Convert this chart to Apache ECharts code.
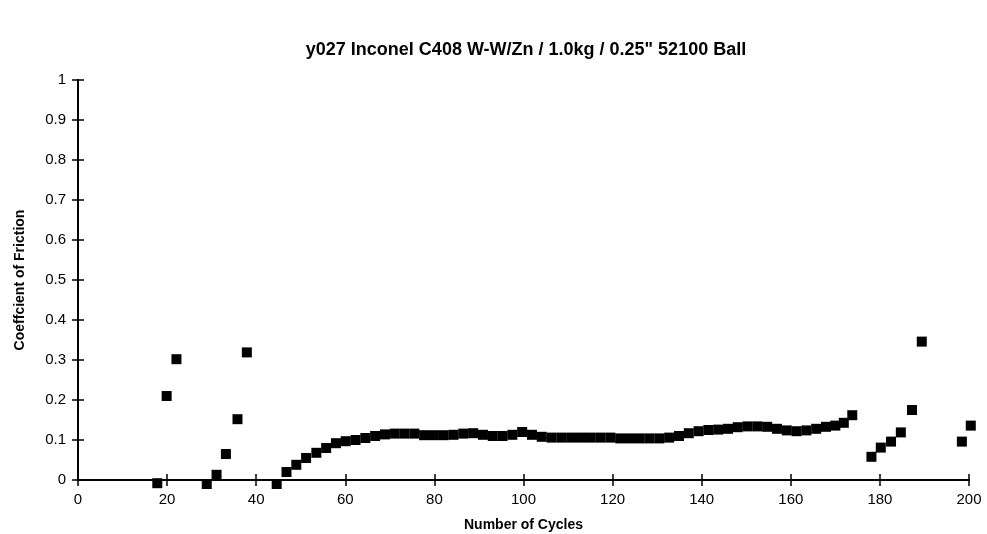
<!DOCTYPE html>
<html>
<head>
<meta charset="utf-8">
<script src="https://cdn.jsdelivr.net/npm/echarts@6/dist/echarts.min.js"></script>
<style>
  html, body { margin: 0; padding: 0; background: #fff; }
  #chart { width: 987px; height: 534px; }
</style>
</head>
<body>
<div id="chart"></div>
<script>
// cycles / coefficient of friction
const earlyCycles = [17.8, 19.9, 22.1, 28.9, 31.1, 33.2, 35.8, 37.9, 44.6];
const earlyCof = [-0.008, 0.21, 0.302, -0.01, 0.013, 0.065, 0.152, 0.319, -0.01];

const runCycles = [46.8, 49, 51.2, 53.5, 55.7, 57.9, 60.1, 62.3, 64.5, 66.7,
  68.9, 71.1, 73.3, 75.5, 77.7, 79.9, 82.1, 84.3, 86.5, 88.7,
  90.9, 93.1, 95.3, 97.5, 99.7, 101.9, 104.1, 106.3, 108.5, 110.7,
  112.9, 115.1, 117.3, 119.5, 121.7, 123.9, 126.1, 128.3, 130.5, 132.7,
  134.9, 137.1, 139.3, 141.5, 143.7, 145.9, 148.1, 150.3, 152.5, 154.7,
  156.9, 159.1, 161.3, 163.5, 165.7, 167.9, 170, 171.9, 173.8];
const runCof = [0.02, 0.038, 0.055, 0.068, 0.08, 0.092, 0.097, 0.1, 0.105, 0.11,
  0.114, 0.116, 0.116, 0.116, 0.112, 0.112, 0.112, 0.113, 0.116, 0.117,
  0.113, 0.11, 0.11, 0.113, 0.12, 0.113, 0.108, 0.106, 0.106, 0.106,
  0.106, 0.106, 0.106, 0.106, 0.104, 0.104, 0.104, 0.104, 0.104, 0.106,
  0.11, 0.117, 0.122, 0.125, 0.126, 0.128, 0.132, 0.134, 0.134, 0.133,
  0.128, 0.124, 0.122, 0.124, 0.128, 0.133, 0.136, 0.143, 0.162];

const lateCycles = [178.1, 180.2, 182.5, 184.7, 187.2, 189.4, 198.4, 200.4];
const lateCof = [0.058, 0.081, 0.096, 0.119, 0.175, 0.346, 0.096, 0.136];

const xTicks = [0, 20, 40, 60, 80, 100, 120, 140, 160, 180, 200];
const yTicks = [0, 0.1, 0.2, 0.3, 0.4, 0.5, 0.6, 0.7, 0.8, 0.9, 1];

function pairs(xs, ys) {
  return xs.map((x, i) => [x, ys[i]]);
}
const points = pairs(earlyCycles, earlyCof)
  .concat(pairs(runCycles, runCof))
  .concat(pairs(lateCycles, lateCof));

const font = 'Liberation Sans';
const black = '#000';
const plotBox = { left: 78, right: 18, top: 80, bottom: 54, containLabel: false, outerBoundsMode: 'none' };

// second grid on top of the first only carries the inside half of each tick
function xAxisDef(grid, inside, showLabel) {
  return {
    gridIndex: grid,
    type: 'value', min: xTicks[0], max: xTicks[xTicks.length - 1],
    interval: xTicks[1] - xTicks[0], position: 'bottom',
    name: showLabel ? 'Number of Cycles' : '', nameLocation: 'middle', nameGap: 38,
    nameTextStyle: { fontFamily: font, fontWeight: 'bold', fontSize: 14, color: black },
    axisLine: { show: true, lineStyle: { color: black, width: 2 } },
    axisTick: { show: true, inside: inside, length: 6, lineStyle: { color: black, width: 1.5 } },
    axisLabel: { show: showLabel, fontFamily: font, fontSize: 15, color: black, margin: 12 },
    splitLine: { show: false }
  };
}
function yAxisDef(grid, inside, showLabel) {
  return {
    gridIndex: grid,
    type: 'value', min: yTicks[0], max: yTicks[yTicks.length - 1],
    interval: 0.1, position: 'left',
    name: showLabel ? 'Coeffcient of Friction' : '', nameLocation: 'middle', nameGap: 51,
    nameRotate: 90,
    nameTextStyle: { fontFamily: font, fontWeight: 'bold', fontSize: 14, color: black },
    axisLine: { show: true, lineStyle: { color: black, width: 2 } },
    axisTick: { show: true, inside: inside, length: 6, lineStyle: { color: black, width: 1.5 } },
    axisLabel: { show: showLabel, fontFamily: font, fontSize: 15, color: black, margin: 12,
      formatter: v => String(Math.round(v * 10) / 10) },
    splitLine: { show: false }
  };
}

const chart = echarts.init(document.getElementById('chart'));
chart.setOption({
  backgroundColor: '#fff',
  animation: false,
  title: {
    text: 'y027 Inconel C408 W-W/Zn / 1.0kg / 0.25" 52100 Ball',
    left: 521, top: 36, textAlign: 'center',
    textStyle: { fontFamily: font, fontWeight: 'bold', fontSize: 18, color: black }
  },
  grid: [Object.assign({}, plotBox), Object.assign({}, plotBox)],
  xAxis: [xAxisDef(0, false, true), xAxisDef(1, true, false)],
  yAxis: [yAxisDef(0, false, true), yAxisDef(1, true, false)],
  series: [{
    type: 'scatter',
    xAxisIndex: 0, yAxisIndex: 0,
    data: points,
    clip: false,
    symbol: 'rect',
    symbolSize: 10,
    itemStyle: { color: black, opacity: 1 }
  }]
});
</script>
</body>
</html>
